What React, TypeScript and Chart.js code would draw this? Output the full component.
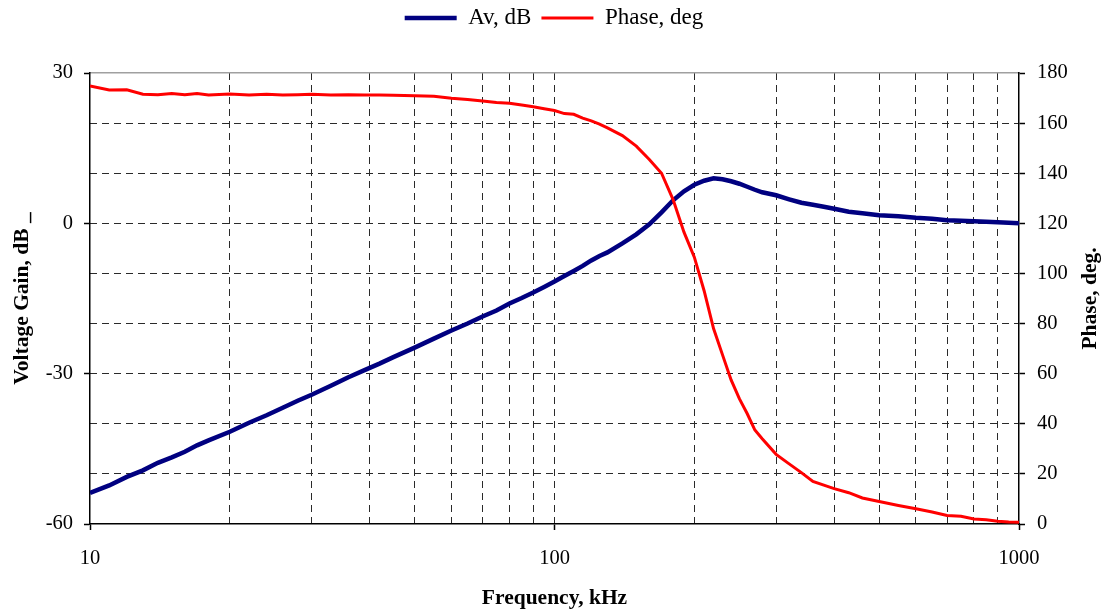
import React, { useEffect, useRef } from 'react';
import { Chart, registerables } from 'chart.js';

Chart.register(...registerables);

const FONT = '"Liberation Serif", "Times New Roman", serif';

const FREQ_KHZ = [10, 11, 12, 13, 14, 15, 16, 17, 18, 20, 22, 24, 26, 28, 30, 33, 36, 39, 42, 45, 50, 55, 60, 65, 70, 75, 80, 85, 90, 95, 100, 105, 110, 115, 120, 125, 130, 140, 150, 160, 170, 180, 190, 200, 210, 220, 230, 240, 250, 260, 270, 280, 300, 320, 340, 360, 380, 400, 430, 460, 500, 550, 600, 650, 700, 750, 800, 850, 900, 950, 1000];

const GAIN_DB = [-53.8, -52.3, -50.6, -49.3, -47.8, -46.7, -45.6, -44.3, -43.3, -41.6, -39.8, -38.3, -36.8, -35.4, -34.2, -32.4, -30.7, -29.3, -28.0, -26.7, -24.8, -23.0, -21.4, -20.0, -18.6, -17.4, -16.0, -14.9, -13.8, -12.7, -11.6, -10.5, -9.5, -8.5, -7.4, -6.5, -5.8, -4.0, -2.2, -0.2, 2.2, 4.6, 6.4, 7.7, 8.5, 9.0, 8.8, 8.4, 7.9, 7.3, 6.7, 6.2, 5.6, 4.8, 4.1, 3.7, 3.3, 2.9, 2.3, 2.0, 1.6, 1.4, 1.1, 0.9, 0.6, 0.5, 0.4, 0.3, 0.2, 0.1, 0.0];

const PHASE_DEG = [174.8, 173.2, 173.3, 171.5, 171.3, 171.8, 171.3, 171.8, 171.2, 171.6, 171.2, 171.5, 171.2, 171.3, 171.5, 171.2, 171.3, 171.2, 171.2, 171.1, 170.9, 170.7, 169.9, 169.4, 168.8, 168.2, 167.9, 167.2, 166.5, 165.7, 165.0, 163.8, 163.5, 162.0, 160.9, 159.6, 158.1, 155.0, 150.8, 145.5, 140.0, 129.5, 116.5, 106.5, 93.0, 78.0, 67.5, 57.5, 50.0, 44.0, 37.5, 34.0, 27.8, 24.0, 20.5, 17.0, 15.5, 14.1, 12.5, 10.4, 9.0, 7.4, 6.1, 4.8, 3.4, 3.1, 2.0, 1.7, 1.1, 0.8, 0.7];

const X_GRID = [10, 20, 30, 40, 50, 60, 70, 80, 90, 100, 200, 300, 400, 500, 600, 700, 800, 900, 1000];
const X_LABELS = [10, 100, 1000];

const SERIES_NAMES = ['Av, dB', 'Phase, deg'];
const X_TITLE = 'Frequency, kHz';
const Y_TITLE = 'Voltage Gain, dB _';
const Y1_TITLE = 'Phase, deg.';

const GRID_COLOR = '#2a2a2a';
const DASH = [7, 5];

const rightTitlePlugin = {
  id: 'rightTitle',
  afterDraw(chart: any) {
    const { ctx, chartArea } = chart;
    ctx.save();
    ctx.translate(chart.width - 5, (chartArea.top + chartArea.bottom) / 2);
    ctx.rotate(-Math.PI / 2);
    ctx.font = `bold 21.5px ${FONT}`;
    ctx.fillStyle = '#000';
    ctx.textAlign = 'center';
    ctx.textBaseline = 'alphabetic';
    ctx.fillText(Y1_TITLE, 0, 0);
    ctx.restore();
  },
};

export default function App() {
  const ref = useRef<HTMLCanvasElement>(null);

  useEffect(() => {
    const canvas = ref.current;
    if (!canvas) return;
    const chart = new Chart(canvas, {
      type: 'line',
      data: {
        datasets: [
          {
            label: SERIES_NAMES[0],
            data: FREQ_KHZ.map((f, i) => ({ x: f, y: GAIN_DB[i] })),
            borderColor: '#000080',
            backgroundColor: '#000080',
            borderWidth: 4.5,
            pointRadius: 0,
            tension: 0,
            yAxisID: 'y',
            xAxisID: 'x',
            order: 1,
            pointStyle: 'line',
          },
          {
            label: SERIES_NAMES[1],
            data: FREQ_KHZ.map((f, i) => ({ x: f, y: PHASE_DEG[i] })),
            borderColor: '#ff0000',
            backgroundColor: '#ff0000',
            borderWidth: 3,
            pointRadius: 0,
            tension: 0,
            yAxisID: 'y1',
            xAxisID: 'x',
            order: 0,
            pointStyle: 'line',
          },
        ],
      },
      options: {
        animation: false,
        responsive: true,
        maintainAspectRatio: false,
        layout: { padding: { left: 7, right: 0, top: -3.5, bottom: 0 } },
        plugins: {
          tooltip: { enabled: false },
          legend: {
            display: true,
            position: 'top',
            labels: {
              usePointStyle: true,
              pointStyleWidth: 52,
              padding: 10,
              color: '#000',
              font: { family: FONT, size: 23 },
              sort: (a: any, b: any) => a.datasetIndex - b.datasetIndex,
            },
          },
        },
        scales: {
          x: {
            type: 'logarithmic',
            position: 'bottom',
            min: 10,
            max: 1000,
            afterBuildTicks: (scale: any) => {
              scale.ticks = X_GRID.map((v) => ({ value: v }));
            },
            afterFit: (scale: any) => {
              scale.height = 88;
            },
            ticks: {
              autoSkip: false,
              maxRotation: 0,
              padding: 16,
              color: '#000',
              font: { family: FONT, size: 20.5 },
              callback: (value: any) => (X_LABELS.includes(Number(value)) ? String(value) : ''),
            },
            grid: {
              drawOnChartArea: true,
              drawTicks: true,
              tickLength: 6,
              lineWidth: 1,
              color: (c: any) =>
                c.tick && (c.tick.value === 10 || c.tick.value === 1000) ? 'rgba(0,0,0,0)' : GRID_COLOR,
              tickColor: (c: any) =>
                c.tick && X_LABELS.includes(c.tick.value) ? '#000' : 'rgba(0,0,0,0)',
              tickWidth: 1.5,
            },
            border: { display: true, color: '#000', width: 1.5, dash: DASH },
            title: {
              display: true,
              text: X_TITLE,
              color: '#000',
              font: { family: FONT, size: 21.5, weight: 'bold', lineHeight: 1 },
              padding: { top: 0, bottom: 2.5 },
            },
          },
          xTop: {
            type: 'logarithmic',
            position: 'top',
            min: 10,
            max: 1000,
            afterFit: (scale: any) => {
              scale.height = 33.5;
            },
            ticks: { display: false },
            grid: { display: false, drawTicks: false },
            border: { display: true, color: '#a0a0a0', width: 1.5 },
          },
          y: {
            type: 'linear',
            position: 'left',
            min: -60,
            max: 30,
            afterFit: (scale: any) => {
              scale.width = 83;
            },
            ticks: {
              stepSize: 30,
              padding: 11,
              color: '#000',
              font: { family: FONT, size: 20.5 },
            },
            grid: {
              drawOnChartArea: false,
              drawTicks: true,
              tickLength: 6,
              tickColor: '#000',
              tickWidth: 1.5,
            },
            border: { display: true, color: '#000', width: 1.5 },
            title: {
              display: true,
              text: Y_TITLE,
              color: '#000',
              font: { family: FONT, size: 21.5, weight: 'bold', lineHeight: 1 },
              padding: { top: 4.25, bottom: 0 },
            },
          },
          y1: {
            type: 'linear',
            position: 'right',
            min: 0,
            max: 180,
            afterFit: (scale: any) => {
              scale.width = 82;
            },
            ticks: {
              stepSize: 20,
              padding: 12,
              color: '#000',
              font: { family: FONT, size: 20.5 },
            },
            grid: {
              drawOnChartArea: true,
              drawTicks: true,
              tickLength: 6,
              lineWidth: 1,
              color: (c: any) =>
                c.tick && (c.tick.value === 180 || c.tick.value === 0) ? 'rgba(0,0,0,0)' : GRID_COLOR,
              tickColor: '#000',
              tickWidth: 1.5,
            },
            border: { display: true, color: '#000', width: 1.5, dash: DASH },
          },
        },
      },
      plugins: [rightTitlePlugin],
    } as any);
    return () => chart.destroy();
  }, []);

  return (
    <>
      <style>{'body{margin:0}'}</style>
      <div style={{ position: 'relative', width: '1101px', height: '612px' }}>
        <canvas ref={ref} />
      </div>
    </>
  );
}
